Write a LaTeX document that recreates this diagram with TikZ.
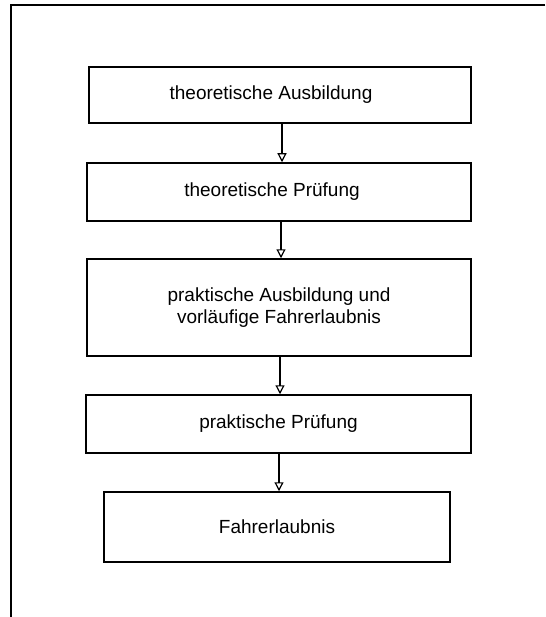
\documentclass[tikz,border=0pt]{standalone}
\usepackage{fontspec}
\setmainfont{Liberation Sans}
\usetikzlibrary{arrows.meta}
\begin{document}
\begin{tikzpicture}[x=1pt,y=1pt,
        stage/.style={draw, line width=1.5pt, align=center, inner sep=0pt, font=\fontsize{19}{22}\selectfont},
        flow/.style={draw, line width=1.2pt, -{Triangle[open, length=9pt, width=9pt, line width=1.2pt]}}]
        \useasboundingbox (0,0) rectangle (545,-617);
        \draw[line width=1.5pt] (545,-5) -- (11,-5) -- (11,-617);

        \node[stage, minimum width=382pt, minimum height=56pt] (1) at (280,-95) {theoretische Ausbildung\hspace*{18pt}};
        \node[stage, minimum width=384pt, minimum height=58pt] (2) at (279,-192) {theoretische Prüfung\hspace*{14pt}};
        \node[stage, minimum width=384pt, minimum height=97pt] (3) at (279,-307.5) {praktische Ausbildung und\\vorläufige Fahrerlaubnis};
        \node[stage, minimum width=385pt, minimum height=58pt] (4) at (278.5,-424) {praktische Prüfung};
        \node[stage, minimum width=346pt, minimum height=70pt] (5) at (277,-527) {Fahrerlaubnis};

        \path[flow] (1.south -| 282,0) -- (2.north -| 282,0);
        \path[flow] (2.south -| 281,0) -- (3.north -| 281,0);
        \path[flow] (3.south -| 280,0) -- (4.north -| 280,0);
        \path[flow] (4.south -| 279,0) -- (5.north -| 279,0);
\end{tikzpicture}
\end{document}
